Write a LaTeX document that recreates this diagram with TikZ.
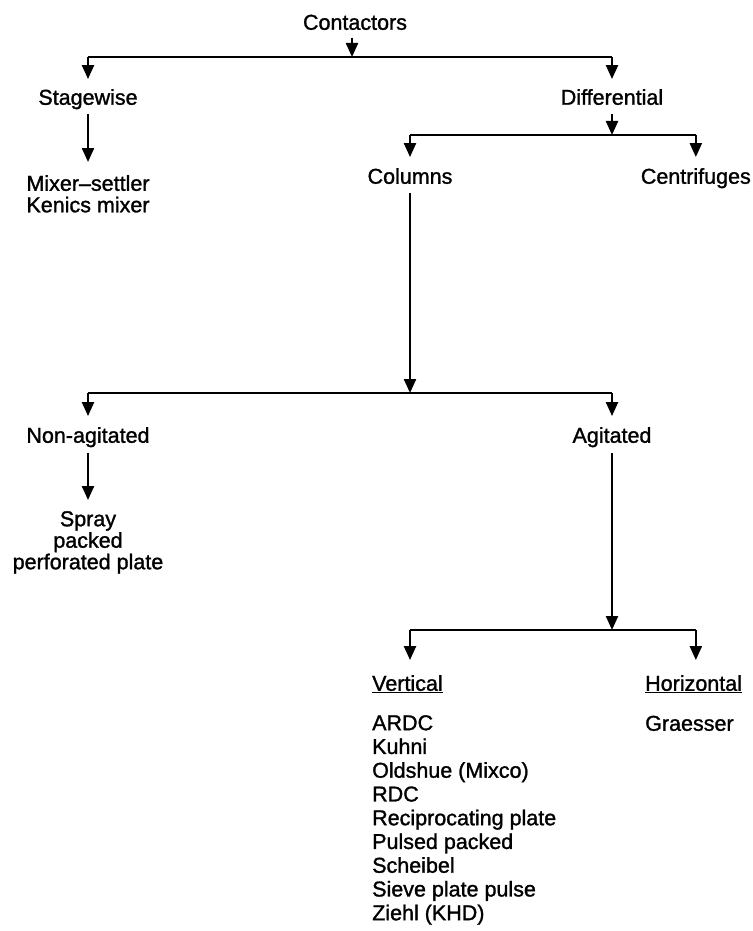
\documentclass[tikz,border=0pt]{standalone}
\usepackage{fontspec}
\setmainfont{Liberation Sans}[FakeBold=1.3]
\usetikzlibrary{arrows.meta}
\begin{document}
\begin{tikzpicture}[x=1pt,y=-1pt,
  lbl/.style={font=\fontsize{21.5}{22}\selectfont, inner sep=0pt, text height=15.5pt, text depth=0pt},
  multi/.style={font=\fontsize{21.5}{21.5}\selectfont, inner sep=0pt, align=center},
  listtxt/.style={font=\fontsize{21.5}{23.75}\selectfont, inner sep=0pt, align=left},
  conn/.style={line width=2.3pt},
  arr/.style={conn, -{Triangle[width=12pt,length=14pt]}}]
\useasboundingbox (0,0) rectangle (752,931);

% nodes
\node[lbl] (contactors) at (355,22) {Contactors};
\node[lbl] (stagewise) at (88,97) {Stagewise};
\node[lbl] (differential) at (612,97) {Differential};
\node[multi, anchor=north] (mixer) at (88,175) {Mixer--settler\\Kenics mixer};
\node[lbl] (columns) at (410,176) {Columns};
\node[lbl, anchor=east] (centrifuges) at (751,176) {Centrifuges};
\node[lbl] (nonag) at (88,435) {Non-agitated};
\node[lbl] (agitated) at (612,435) {Agitated};
\node[multi, anchor=north] (spray) at (88,511) {Spray\\packed\\perforated plate};
\node[lbl, anchor=west] (vert) at (372,683) {\underline{Vertical}};
\node[lbl, anchor=west] (horiz) at (645,683) {\underline{Horizontal}};
\node[listtxt, anchor=north west] (vlist) at (372,715) {ARDC\\Kuhni\\Oldshue (Mixco)\\RDC\\Reciprocating plate\\Pulsed packed\\Scheibel\\Sieve plate pulse\\Ziehl (KHD)};
\node[lbl, anchor=west] (graesser) at (645,723) {Graesser};

% bar coordinates
\coordinate (b1) at (352,57);
\coordinate (b2) at (612,135);
\coordinate (b3) at (410,393);
\coordinate (b4) at (612,630);

% level 1
\draw[arr, shorten <=8pt] (contactors.south -| b1) -- (b1);
\draw[conn] (b1 -| stagewise) -- (b1 -| differential);
\draw[arr, shorten >=10pt] (b1 -| stagewise) -- (stagewise.north);
\draw[arr, shorten >=10pt] (b1 -| differential) -- (differential.north);
\draw[arr, shorten <=9pt, shorten >=13pt] (stagewise.south) -- (mixer.north);

% level 2
\draw[arr, shorten <=9pt] (differential.south) -- (b2);
\draw[conn] (b2 -| columns) -- (b2 -| centrifuges);
\draw[arr, shorten >=11pt] (b2 -| columns) -- (columns.north);
\draw[arr, shorten >=11pt] (b2 -| centrifuges) -- (centrifuges.north);

% level 3
\draw[arr, shorten <=9pt] (columns.south) -- (b3);
\draw[conn] (b3 -| nonag) -- (b3 -| agitated);
\draw[arr, shorten >=11pt] (b3 -| nonag) -- (nonag.north);
\draw[arr, shorten >=11pt] (b3 -| agitated) -- (agitated.north);
\draw[arr, shorten <=10pt, shorten >=11pt] (nonag.south) -- (spray.north);

% level 4
\draw[arr, shorten <=10pt] (agitated.south) -- (b4);
\draw[conn] (b4 -| columns) -- (b4 -| centrifuges);
\draw[arr, shorten >=15pt] (b4 -| columns) -- (columns |- vert.north);
\draw[arr, shorten >=15pt] (b4 -| centrifuges) -- (centrifuges |- horiz.north);
\end{tikzpicture}
\end{document}
